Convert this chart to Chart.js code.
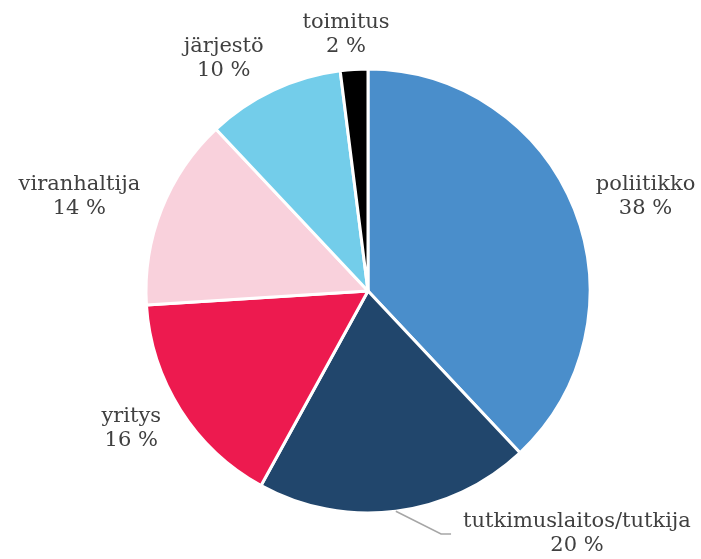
<!DOCTYPE html>
<html>
<head>
<meta charset="utf-8">
<script src="https://cdn.jsdelivr.net/npm/chart.js@4/dist/chart.umd.min.js"></script>
<style>
html,body{margin:0;padding:0;background:#fff;}
#wrap{width:701px;height:559px;position:relative;}
</style>
</head>
<body>
<div id="wrap"><canvas id="c" width="701" height="559"></canvas></div>
<script>
const categories = ["poliitikko", "tutkimuslaitos/tutkija", "yritys", "viranhaltija", "järjestö", "toimitus"];
const shares = [38, 20, 16, 14, 10, 2];
const percentLabels = ["38 %", "20 %", "16 %", "14 %", "10 %", "2 %"];
const colors = ["#4a8ecb", "#21466c", "#ed1a4f", "#f9d1dc", "#73cdea", "#000000"];

const FONT = '21px "DejaVu Serif", "Liberation Serif", serif';
const LINE_H = 24;

const outsideLabels = {
  id: 'outsideLabels',
  afterDatasetsDraw(chart, args, opts) {
    const ctx = chart.ctx;
    const meta = chart.getDatasetMeta(0);
    ctx.save();
    ctx.font = FONT;
    ctx.fillStyle = '#404040';
    ctx.textAlign = 'center';
    ctx.textBaseline = 'middle';
    meta.data.forEach((arc, i) => {
      const p = arc.getProps(['x','y','startAngle','endAngle','outerRadius'], true);
      const mid = (p.startAngle + p.endAngle) / 2;
      const s = Math.cos(mid), c = Math.sin(mid);
      const lines = [categories[i], percentLabels[i]];
      const w = Math.max(...lines.map(t => ctx.measureText(t).width));
      const halfW = w / 2;
      const rr = p.outerRadius + opts.gap;
      const ax = p.x + s * rr, ay = p.y + c * rr;
      let cx = ax + halfW * Math.max(-1, Math.min(1, s * 2.4));
      let cy = ay + LINE_H * 0.5 * c;
      const off = (opts.offsets || {})[i];
      if (off) {
        cx += off[0]; cy += off[1];
        const ex = p.x + s * p.outerRadius, ey = p.y + c * p.outerRadius;
        const bx = cx - halfW - 12;
        ctx.save();
        ctx.strokeStyle = '#a6a6a6';
        ctx.lineWidth = 1.5;
        ctx.beginPath();
        ctx.moveTo(ex, ey);
        ctx.lineTo(bx - 10, cy);
        ctx.lineTo(bx, cy);
        ctx.stroke();
        ctx.restore();
      }
      ctx.fillText(lines[0], cx, cy - LINE_H / 2);
      ctx.fillText(lines[1], cx, cy + LINE_H / 2);
    });
    ctx.restore();
  }
};

new Chart(document.getElementById('c'), {
  type: 'pie',
  data: {
    labels: categories,
    datasets: [{
      data: shares,
      backgroundColor: colors,
      borderColor: '#ffffff',
      borderWidth: 3
    }]
  },
  options: {
    responsive: false,
    animation: false,
    layout: { padding: { left: 144.5, right: 109.5, top: 67.5, bottom: 44.5 } },
    plugins: {
      legend: { display: false },
      tooltip: { enabled: false },
      outsideLabels: { gap: 23, offsets: { 1: [144, -12] } }
    }
  },
  plugins: [outsideLabels]
});
</script>
</body>
</html>
